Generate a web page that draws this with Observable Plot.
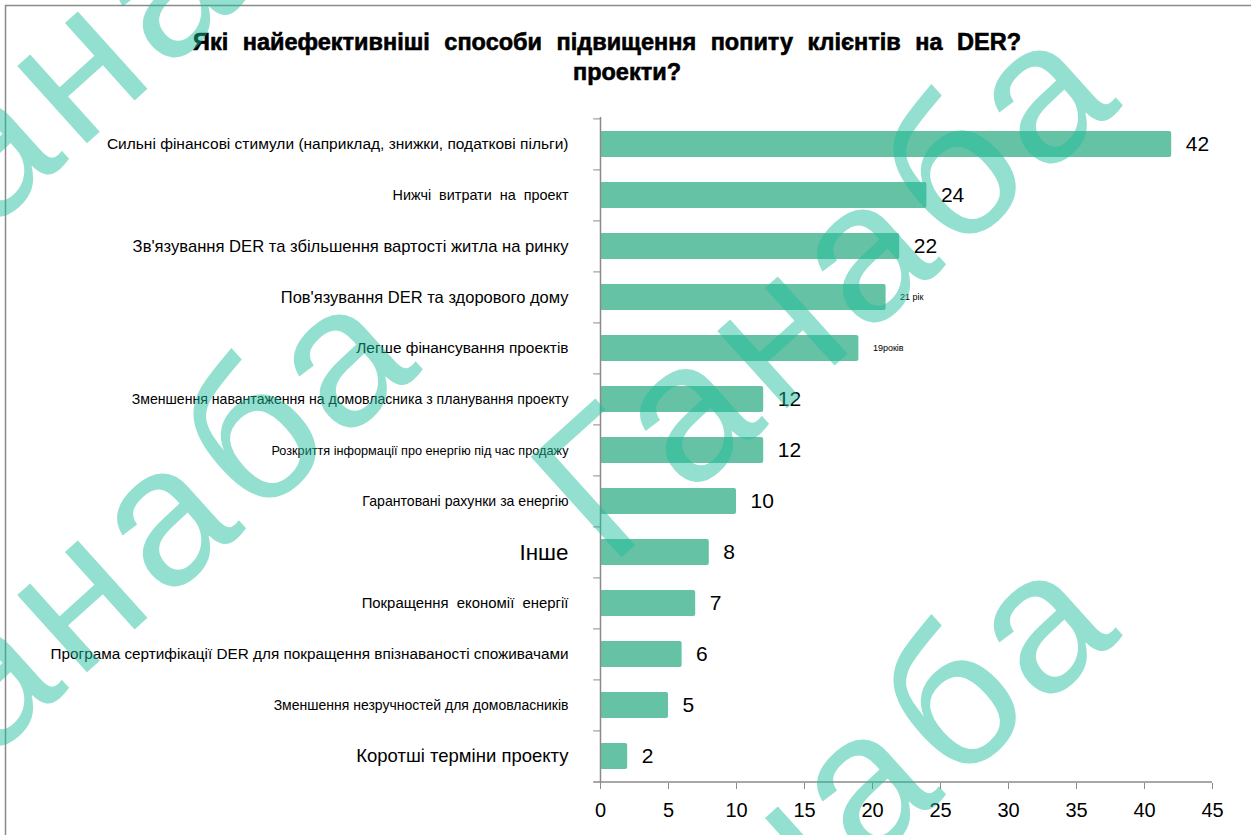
<!DOCTYPE html>
<html>
<head>
<meta charset="utf-8">
<script src="https://cdn.jsdelivr.net/npm/d3@7"></script>
<script src="https://cdn.jsdelivr.net/npm/@observablehq/plot@0.6"></script>
<style>
  html, body { margin: 0; padding: 0; background: #fff; }
  #wrap { position: relative; width: 1251px; height: 835px; overflow: hidden; background: #fff; }
  #wrap svg { position: absolute; left: 0; top: 0; }
</style>
</head>
<body>
<div id="wrap"></div>
<script>
// ---- data ----
const categories = [
  "Сильні фінансові стимули (наприклад, знижки, податкові пільги)",
  "Нижчі  витрати  на  проект",
  "Зв'язування DER та збільшення вартості житла на ринку",
  "Пов'язування DER та здорового дому",
  "Легше фінансування проектів",
  "Зменшення навантаження на домовласника з планування проекту",
  "Розкриття інформації про енергію під час продажу",
  "Гарантовані рахунки за енергію",
  "Інше",
  "Покращення  економії  енергії",
  "Програма сертифікації DER для покращення впізнаваності споживачами",
  "Зменшення незручностей для домовласників",
  "Коротші терміни проекту"
];
const values = [42, 24, 22, 21, 19, 12, 12, 10, 8, 7, 6, 5, 2];
const valueLabels = ["42", "24", "22", "21 рік", "19років", "12", "12", "10", "8", "7", "6", "5", "2"];
const xTicks = [0, 5, 10, 15, 20, 25, 30, 35, 40, 45];
const titleLines = ["Які найефективніші способи підвищення попиту клієнтів на DER?", "проекти?"];
const watermarkText = "Ганаба";

// ---- styles (per-label font sizes) ----
const labelSizes = [15.5, 14.4, 16.6, 16.5, 15.4, 14.1, 12.7, 14.1, 22.4, 14.9, 15.3, 14, 18.5];
const valueSizes = [21, 21, 21, 9, 9, 21, 21, 21, 21, 21, 21, 21, 21];

const data = categories.map((c, i) => ({
  category: c, value: values[i], label: valueLabels[i],
  labelSize: labelSizes[i], valueSize: valueSizes[i]
}));

const FONT = '"Liberation Sans", Arial, sans-serif';
const GRAY = "#8a8a8a";
const last = categories[categories.length - 1];

const chart = Plot.plot({
  width: 1251,
  height: 835,
  marginTop: 117,
  marginBottom: 52,
  marginLeft: 600,
  marginRight: 39,
  style: { fontFamily: FONT, color: "#000", background: "transparent" },
  x: { domain: [0, 45] },
  y: { domain: categories, paddingInner: 0.5, paddingOuter: 0.25, axis: null },
  marks: [
    Plot.barX(data, { x: "value", y: "category", fill: "#66c2a5", rx: 2 }),
    Plot.ruleX([0], { stroke: GRAY, strokeWidth: 1.5 }),
    Plot.ruleY(data, { y: "category", x1: -0.5, x2: 0, dy: -25.6, stroke: GRAY }),
    Plot.ruleY([last], { y: d => d, x1: -0.5, x2: 45, dy: 25.6, stroke: GRAY, strokeWidth: 1.5 }),
    Plot.axisX(xTicks, { tickSize: 6, tickPadding: 13, fontSize: 20, stroke: GRAY, label: null }),
    Plot.text(data, {
      x: 0, y: "category", text: "category", textAnchor: "end", dx: -32,
      fontSize: d => d.labelSize, fill: "#000"
    }),
    Plot.text(data, {
      x: "value", y: "category", text: "label", textAnchor: "start", dx: 14,
      fontSize: d => d.valueSize, fill: "#000"
    })
  ]
});
document.getElementById("wrap").append(chart);

// ---- overlay: frame, title, watermark ----
const ov = d3.select("#wrap").append("svg")
  .attr("width", 1251).attr("height", 835)
  .style("font-family", FONT);

ov.append("path").attr("d", "M5.5,835V5.5H1251").attr("fill", "none")
  .attr("stroke", GRAY).attr("stroke-width", 1.5);

const titleG = ov.append("g").attr("font-size", 23.5).attr("font-weight", "bold")
  .attr("text-anchor", "middle").attr("fill", "#000")
  .attr("stroke", "#000").attr("stroke-width", 0.6);
titleG.append("text").attr("x", 607).attr("y", 50).attr("word-spacing", 8)
  .text(titleLines[0]);
titleG.append("text").attr("x", 627).attr("y", 80)
  .text(titleLines[1]);

const wmCenters = [[134.5, 29], [134.5, 558], [134.5, 1088], [834.5, 294], [834.5, 824]];
const wm = ov.append("g").attr("fill", "rgb(28,189,155)").attr("fill-opacity", 0.47);
wmCenters.forEach(([cx, cy]) => {
  wm.append("text")
    .attr("transform", `translate(${cx},${cy}) rotate(-42)`)
    .attr("text-anchor", "middle").attr("dy", "0.27em")
    .attr("font-size", 197).attr("letter-spacing", 10)
    .text(watermarkText);
});
</script>
</body>
</html>
